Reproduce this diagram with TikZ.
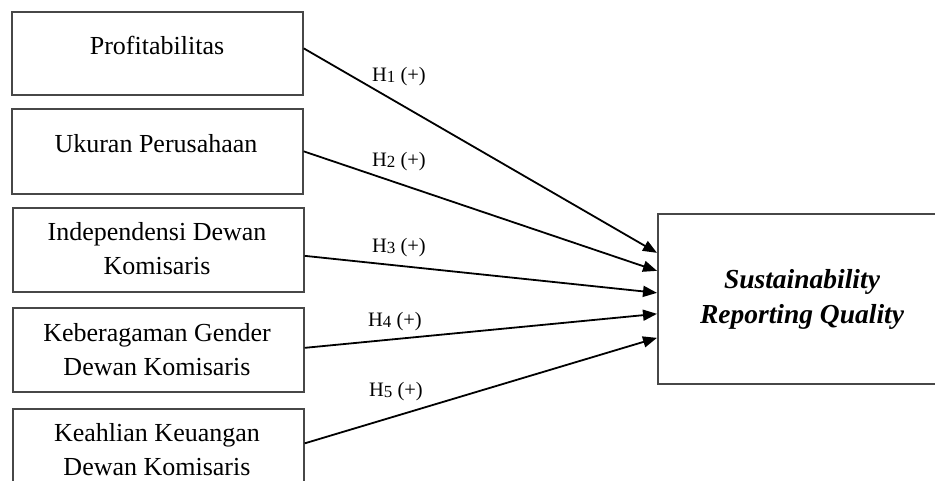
\documentclass[tikz,border=0pt]{standalone}
\usepackage{fontspec}
\setmainfont{Liberation Serif}
\usetikzlibrary{arrows.meta}
\begin{document}
\begin{tikzpicture}[x=1pt,y=-1pt,
  varbox/.style={draw=black!72,line width=1.7pt,minimum width=291pt,minimum height=83pt,inner sep=0pt,anchor=north west},
  vartext/.style={font=\fontsize{26}{34}\selectfont,align=center,inner sep=0pt},
  path/.style={line width=1.8pt,-{Triangle[length=14pt,width=11pt]}},
  hyp/.style={font=\fontsize{20.5}{22}\selectfont,inner sep=0pt}]
\useasboundingbox (0,0) rectangle (935,481);
\clip (0,0) rectangle (935,481);
% exogenous variables
\node[varbox] (b1) at (11,11) {};
\node[varbox,minimum height=85pt] (b2) at (11,108) {};
\node[varbox,minimum height=84pt] (b3) at (12,207) {};
\node[varbox,minimum height=84pt] (b4) at (12,307) {};
\node[varbox,minimum height=85pt] (b5) at (12,408) {};
\node[vartext] (t1) at (157,45) {Profitabilitas};
\node[vartext] (t2) at (156,144) {Ukuran Perusahaan};
\node[vartext] (t3) at (157,249) {Independensi Dewan\\Komisaris};
\node[vartext] (t4) at (157,350) {Keberagaman Gender\\Dewan Komisaris};
\node[vartext] (t5) at (157,450) {Keahlian Keuangan\\Dewan Komisaris};
% endogenous variable
\node[varbox,minimum width=320pt,minimum height=170pt] (y) at (657,213) {};
\node[vartext,font=\fontsize{27.5}{35}\selectfont\bfseries\itshape] (ty) at (802,299) {Sustainability\\Reporting Quality};
% hypothesised paths
\draw[path] ([yshift=5pt]b1.east) -- ([yshift=46pt]y.west);
\draw[path] ([yshift=0pt]b2.east) -- ([yshift=28pt]y.west);
\draw[path] ([yshift=-6pt]b3.east) -- ([yshift=6pt]y.west);
\draw[path] ([yshift=2pt]b4.east) -- ([yshift=-15pt]y.west);
\draw[path] ([yshift=8pt]b5.east) -- ([yshift=-39pt]y.west);
% path labels
\node[hyp] (h1) at (399,77) {H\raisebox{-1pt}{\fontsize{17}{18}\selectfont 1} (+)};
\node[hyp] (h2) at (399,162) {H\raisebox{-1pt}{\fontsize{17}{18}\selectfont 2} (+)};
\node[hyp] (h3) at (399,248) {H\raisebox{-1pt}{\fontsize{17}{18}\selectfont 3} (+)};
\node[hyp] (h4) at (395,322) {H\raisebox{-1pt}{\fontsize{17}{18}\selectfont 4} (+)};
\node[hyp] (h5) at (396,392) {H\raisebox{-1pt}{\fontsize{17}{18}\selectfont 5} (+)};
\end{tikzpicture}
\end{document}
